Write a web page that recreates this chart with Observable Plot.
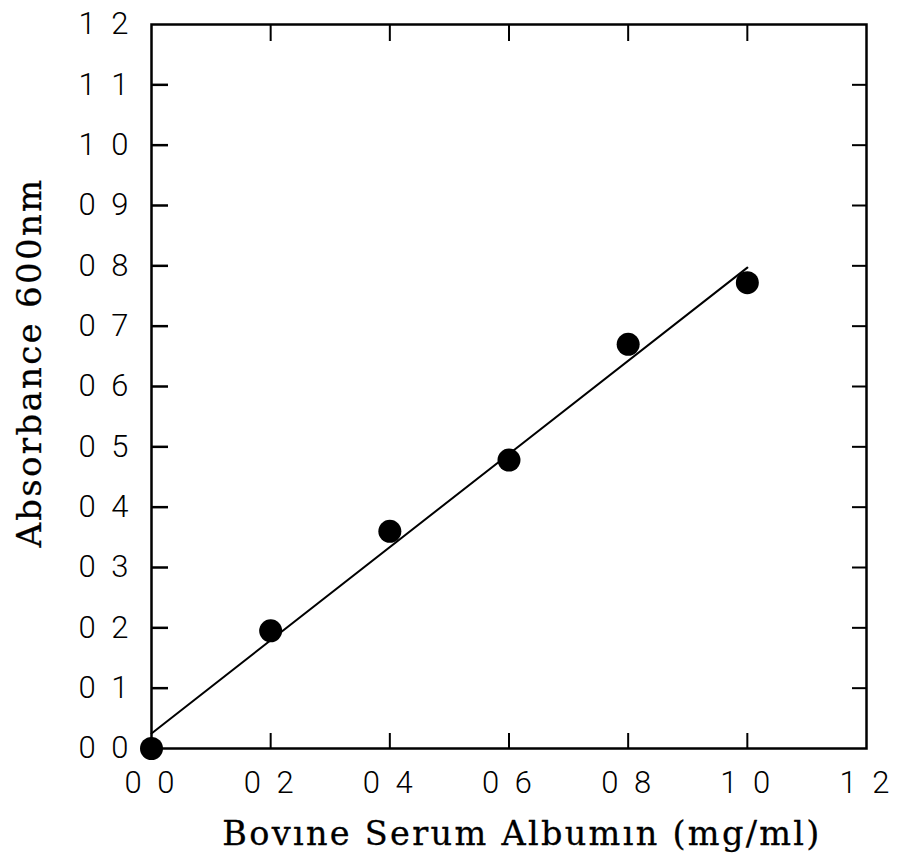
<!DOCTYPE html>
<html>
<head>
<meta charset="utf-8">
<script src="https://cdn.jsdelivr.net/npm/d3@7"></script>
<script src="https://cdn.jsdelivr.net/npm/@observablehq/plot@0.6"></script>
<style>
  html, body { margin: 0; padding: 0; background: #fff; }
  [aria-label$="tick label"] text { letter-spacing: 4px; }
  .title text { letter-spacing: 2.3px; }
</style>
</head>
<body>
<div id="chart"></div>
<script>
const bsa = [0.0, 0.2, 0.4, 0.6, 0.8, 1.0];
const absorbance = [0.0, 0.195, 0.36, 0.478, 0.67, 0.772];
const fitX = [0.0, 1.0];
const fitY = [0.025, 0.797];
const xTicks = [0.0, 0.2, 0.4, 0.6, 0.8, 1.0, 1.2];
const xTickLabels = ["0 0", "0 2", "0 4", "0 6", "0 8", "1 0", "1 2"];
const yTicks = [0.0, 0.1, 0.2, 0.3, 0.4, 0.5, 0.6, 0.7, 0.8, 0.9, 1.0, 1.1, 1.2];
const yTickLabels = ["0 0", "0 1", "0 2", "0 3", "0 4", "0 5", "0 6", "0 7", "0 8", "0 9", "1 0", "1 1", "1 2"];
const xTitle = "Bovıne Serum Albumın (mg/ml)";
const yTitle = "Absorbance 600nm";

const points = bsa.map((x, i) => ({x, y: absorbance[i]}));
const fit = fitX.map((x, i) => ({x, y: fitY[i]}));

const sans = "Roboto, Liberation Sans, Arial, sans-serif";
const serif = "DejaVu Serif, Liberation Serif, serif";

const chart = Plot.plot({
  width: 904,
  height: 862,
  marginLeft: 151,
  marginRight: 38,
  marginTop: 24,
  marginBottom: 114,
  style: {background: "#fff", color: "#000"},
  x: {domain: [0, 1.2]},
  y: {domain: [0, 1.2]},
  marks: [
    // tick labels
    Plot.axisX(xTicks, {anchor: "bottom", tickSize: 0, tickPadding: 22, tickFormat: (d, i) => xTickLabels[i], fontSize: 31, fontFamily: sans, fontWeight: 300, label: null}),
    Plot.axisY(yTicks, {anchor: "left", tickSize: 0, tickPadding: 19, tickFormat: (d, i) => yTickLabels[i], fontSize: 31, fontFamily: sans, fontWeight: 300, label: null}),
    // inward ticks on all four sides
    Plot.axisX(xTicks.slice(1, -1), {anchor: "bottom", tickSize: -15, strokeWidth: 2, tickFormat: () => "", label: null}),
    Plot.axisX(xTicks.slice(1, -1), {anchor: "top", tickSize: -16, strokeWidth: 2, tickFormat: () => "", label: null}),
    Plot.axisY(yTicks.slice(1, -1), {anchor: "left", tickSize: -17, strokeWidth: 2.5, tickFormat: () => "", label: null}),
    Plot.axisY(yTicks.slice(1, -1), {anchor: "right", tickSize: -15, strokeWidth: 2, tickFormat: () => "", label: null}),
    Plot.frame({stroke: "#000", strokeWidth: 2.5}),
    Plot.line(fit, {x: "x", y: "y", stroke: "#000", strokeWidth: 2}),
    Plot.dot(points, {x: "x", y: "y", r: 11.5, fill: "#000", stroke: "none"}),
    // axis titles
    Plot.text([xTitle], {className: "title", frameAnchor: "bottom", text: d => d, dx: 13, dy: 86, fontSize: 33.5, fontFamily: serif, fill: "#000", stroke: "#000", strokeWidth: 0.3, lineAnchor: "middle", textAnchor: "middle"}),
    Plot.text([yTitle], {className: "title", frameAnchor: "left", text: d => d, dx: -121, dy: -24, rotate: -90, fontSize: 34, fontFamily: serif, fill: "#000", stroke: "#000", strokeWidth: 0.3, lineAnchor: "middle", textAnchor: "middle"})
  ]
});
document.getElementById("chart").append(chart);
</script>
</body>
</html>
